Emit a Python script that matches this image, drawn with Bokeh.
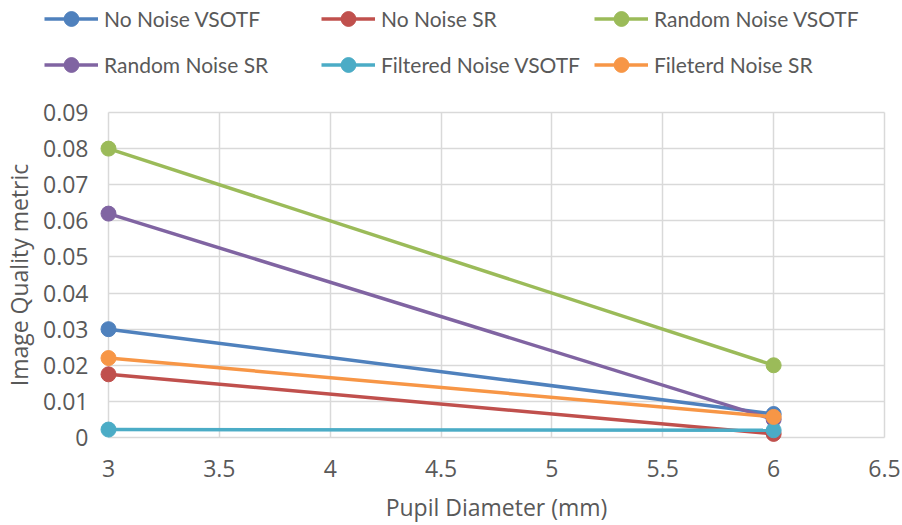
from bokeh.plotting import figure
from bokeh.models import Range1d, FixedTicker, Legend, LegendItem
from bokeh.layouts import column
from bokeh.embed import file_html
from bokeh.resources import INLINE

# ---- data ----
pupil_diameter = [3, 6]
series_names = ["No Noise VSOTF", "No Noise SR", "Random Noise VSOTF",
                "Random Noise SR", "Filtered Noise VSOTF", "Fileterd Noise SR"]
no_noise_vsotf = [0.030, 0.0065]
no_noise_sr = [0.0175, 0.001]
random_noise_vsotf = [0.080, 0.020]
random_noise_sr = [0.062, 0.005]
filtered_noise_vsotf = [0.0022, 0.002]
filtered_noise_sr = [0.022, 0.0057]
series_values = [no_noise_vsotf, no_noise_sr, random_noise_vsotf,
                 random_noise_sr, filtered_noise_vsotf, filtered_noise_sr]
series_colors = ["#4F81BD", "#C0504D", "#9BBB59", "#8064A2", "#4BACC6", "#F79646"]

x_ticks = [3, 3.5, 4, 4.5, 5, 5.5, 6, 6.5]
x_tick_labels = ["3", "3.5", "4", "4.5", "5", "5.5", "6", "6.5"]
y_ticks = [0, 0.01, 0.02, 0.03, 0.04, 0.05, 0.06, 0.07, 0.08, 0.09]
y_tick_labels = ["0", "0.01", "0.02", "0.03", "0.04", "0.05", "0.06", "0.07", "0.08", "0.09"]

x_min, x_max = 3, 6.5
y_min, y_max = 0, 0.09

# ---- layout constants ----
W, H = 902, 525
LEG_H = 84
MAIN_H = H - LEG_H
BL, BR, BT, BB = 98, 8, 18, 78
PAD = 10
frame_w = W - BL - BR
frame_h = MAIN_H - BT - BB
px = (x_max - x_min) / (frame_w - 2 * PAD)
py = (y_max - y_min) / (frame_h - 2 * PAD)

TEXT = "#595959"
GRID = "#D9D9D9"
AX_FONT = "Open Sans"
LEG_FONT = "Lato"

# ---- main plot ----
p = figure(width=W, height=MAIN_H, output_backend="svg", toolbar_location=None,
           x_range=Range1d(x_min - PAD * px, x_max + PAD * px),
           y_range=Range1d(y_min - PAD * py, y_max + PAD * py),
           min_border_left=BL, min_border_right=BR, min_border_top=BT, min_border_bottom=BB)
p.frame_align = False
p.outline_line_color = None
p.background_fill_color = "white"
p.border_fill_color = "white"

p.xgrid.ticker = FixedTicker(ticks=x_ticks)
p.ygrid.ticker = FixedTicker(ticks=y_ticks)
for g in (p.xgrid, p.ygrid):
    g.grid_line_color = GRID
    g.grid_line_width = 1.5
p.xgrid.cross_bounds = (y_min, y_max)
p.ygrid.cross_bounds = (x_min, x_max)

p.xaxis.ticker = FixedTicker(ticks=x_ticks)
p.yaxis.ticker = FixedTicker(ticks=y_ticks)
p.xaxis.major_label_overrides = {v: s for v, s in zip(x_ticks, x_tick_labels)}
p.yaxis.major_label_overrides = {v: s for v, s in zip(y_ticks, y_tick_labels)}
for ax in (p.xaxis, p.yaxis):
    ax.axis_line_color = None
    ax.major_tick_line_color = None
    ax.minor_tick_line_color = None
    ax.major_tick_out = 0
    ax.major_tick_in = 0
    ax.major_label_text_font = AX_FONT
    ax.major_label_text_font_size = "23px"
    ax.major_label_text_color = TEXT
    ax.axis_label_text_font = AX_FONT
    ax.axis_label_text_font_size = "23px"
    ax.axis_label_text_font_style = "normal"
    ax.axis_label_text_color = TEXT
p.xaxis.axis_label = "Pupil Diameter (mm)"
p.yaxis.axis_label = "Image Quality metric"
p.xaxis.major_label_standoff = 12
p.yaxis.major_label_standoff = 10
p.xaxis.axis_label_standoff = 11
p.yaxis.axis_label_standoff = 5

for name, vals, col in zip(series_names, series_values, series_colors):
    p.line(pupil_diameter, vals, line_color=col, line_width=3.5)
    p.scatter(pupil_diameter, vals, marker="circle", size=15,
              fill_color=col, line_color=col)

# ---- legend strip (separate figure on top) ----
lf = figure(width=W, height=LEG_H, output_backend="svg", toolbar_location=None,
            x_axis_type=None, y_axis_type=None,
            x_range=Range1d(100, 101), y_range=Range1d(100, 101),
            min_border_left=0, min_border_right=0, min_border_top=0, min_border_bottom=0)
lf.frame_align = False
lf.outline_line_color = None
lf.background_fill_color = "white"
lf.border_fill_color = "white"
lf.xgrid.visible = False
lf.ygrid.visible = False

items = []
for name, vals, col in zip(series_names, series_values, series_colors):
    ln = lf.line(pupil_diameter, vals, line_color=col, line_width=3.5)
    sc = lf.scatter(pupil_diameter, vals, marker="circle", size=15,
                    fill_color=col, line_color=col)
    items.append(LegendItem(label=name, renderers=[ln, sc]))

col_left = [44, 321, 594]
glyph_h = 37
row_gap = 9
leg_top = 0
leg_h = 2 * glyph_h + row_gap
for c in range(3):
    leg = Legend(items=[items[c], items[c + 3]], orientation="vertical",
                 location=(col_left[c], LEG_H - (leg_top + leg_h)),
                 padding=0, margin=0, spacing=row_gap,
                 glyph_width=54, glyph_height=glyph_h, label_height=glyph_h,
                 label_standoff=6,
                 label_text_font=LEG_FONT, label_text_font_size="21px",
                 label_text_color=TEXT,
                 border_line_color=None, background_fill_alpha=0)
    lf.add_layout(leg, "center")

layout = column(lf, p, spacing=0)
open("out.html", "w").write(file_html(layout, INLINE))
